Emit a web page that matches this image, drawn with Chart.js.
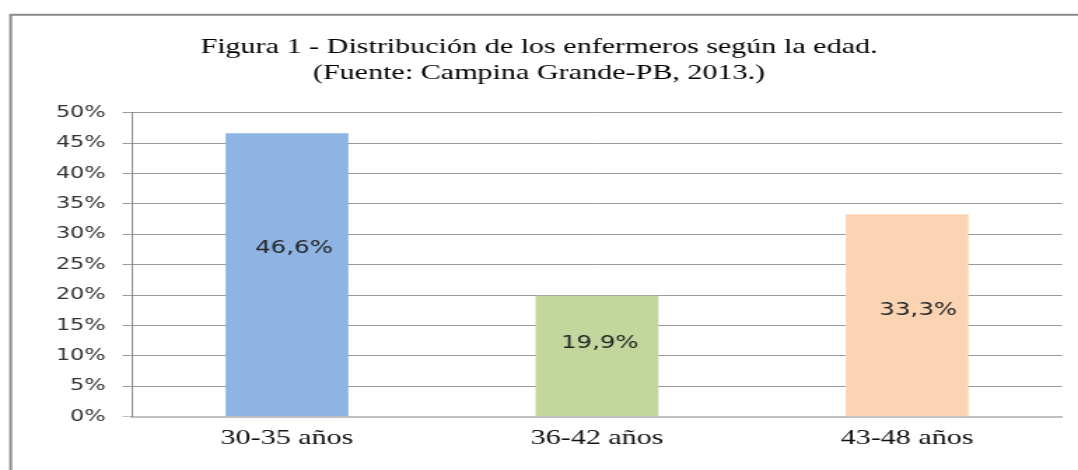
<!DOCTYPE html>
<html>
<head>
<meta charset="utf-8">
<script src="https://cdn.jsdelivr.net/npm/chart.js@4/dist/chart.umd.min.js"></script>
<style>
  html, body { margin: 0; padding: 0; background: #fff; overflow: hidden; }
  /* the original picture is stretched sideways, so the canvas is too */
  #myChart { transform: scaleX(1.4); transform-origin: 0 0; }
</style>
</head>
<body>
<canvas id="myChart" width="770" height="470"></canvas>
<script>
const categories = ["30-35 años", "36-42 años", "43-48 años"];
const values = [46.6, 19.9, 33.3];
const valueLabels = ["46,6%", "19,9%", "33,3%"];
const barColors = ["#8EB4E3", "#C3D69B", "#FBD4B4"];
const titleLines = [
  "Figura 1 - Distribución de los enfermeros según la edad.",
  "(Fuente: Campina Grande-PB, 2013.)"
];

// outer frame of the figure
const framePlugin = {
  id: 'frame',
  beforeDraw(chart) {
    const ctx = chart.ctx;
    ctx.save();
    ctx.strokeStyle = '#8C8C8C';
    ctx.lineWidth = 2;
    ctx.strokeRect(7.6, 14.8, 900, 600);
    ctx.restore();
  }
};

// value labels inside the bars
const labelPlugin = {
  id: 'valueLabels',
  afterDatasetsDraw(chart) {
    const ctx = chart.ctx;
    const yScale = chart.scales.y;
    const meta = chart.getDatasetMeta(0);
    const dx = [5, 2, 8];
    const dy = [2, -1, 15];
    ctx.save();
    ctx.font = '17.5px "DejaVu Sans"';
    ctx.fillStyle = '#262626';
    ctx.textAlign = 'center';
    ctx.textBaseline = 'middle';
    meta.data.forEach(function(bar, i) {
      const y = yScale.getPixelForValue(values[i] * 0.6) + dy[i];
      ctx.fillText(valueLabels[i], bar.x + dx[i], y);
    });
    ctx.restore();
  }
};

const ctx = document.getElementById("myChart").getContext("2d");
const chart = new Chart(ctx, {
  type: 'bar',
  data: {
    labels: categories,
    datasets: [{
      data: values,
      backgroundColor: barColors,
      borderWidth: 0,
      categoryPercentage: 1,
      barPercentage: 0.396
    }]
  },
  options: {
    responsive: false,
    animation: false,
    devicePixelRatio: 1,
    layout: {
      padding: { top: 20, left: 11.4, right: 11.4, bottom: 10.7 }
    },
    plugins: {
      legend: { display: false },
      tooltip: { enabled: false },
      title: {
        display: true,
        text: titleLines,
        color: '#000',
        font: { family: '"Liberation Serif"', size: 21.5, weight: 'normal', lineHeight: 1.209 },
        padding: { top: 14, bottom: 26.7 }
      }
    },
    scales: {
      x: {
        grid: { display: false, drawTicks: false },
        border: { display: true, color: '#BFBFBF', width: 2 },
        ticks: {
          color: '#111',
          padding: 8.4,
          font: { family: '"Liberation Serif"', size: 21.5 }
        }
      },
      y: {
        min: 0,
        max: 50,
        afterFit: function(scale) { scale.width = 82.9; },
        grid: {
          color: function(c) { return c.tick && c.tick.value === 0 ? '#BFBFBF' : '#999999'; },
          lineWidth: 1,
          drawTicks: true,
          tickLength: 6.8
        },
        border: { display: true, color: '#888888', width: 1 },
        ticks: {
          stepSize: 5,
          padding: 12,
          color: '#333',
          font: { family: '"DejaVu Sans"', size: 16 },
          callback: function(v) { return v + '%'; }
        }
      }
    }
  },
  plugins: [framePlugin, labelPlugin]
});
</script>
</body>
</html>
